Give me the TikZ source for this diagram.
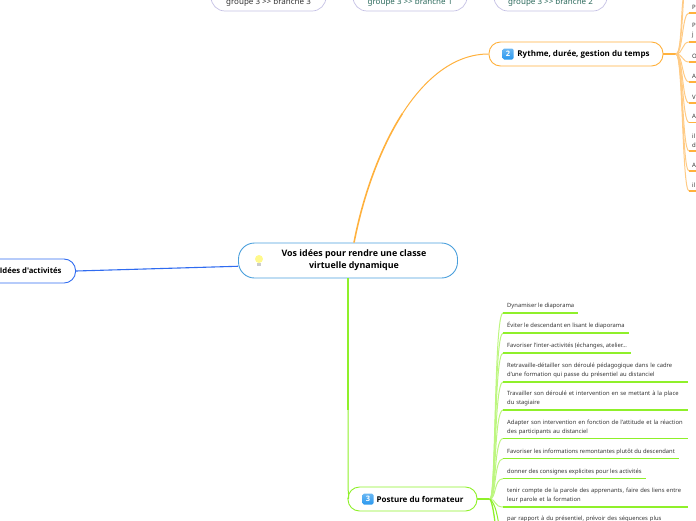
\documentclass[tikz,border=0pt]{standalone}
\usepackage{fontspec}
\setmainfont{Noto Sans}
\newfontfamily\titlefont{Open Sans}
\definecolor{orangeline}{HTML}{FFB13D}
\definecolor{orangefan}{HTML}{FFCB85}
\definecolor{greenline}{HTML}{8FF02A}
\definecolor{greenfan}{HTML}{BDF680}
\definecolor{blueline}{HTML}{2F6BF0}
\definecolor{mainline}{HTML}{4A9FDC}
\definecolor{lilacline}{HTML}{C4C0E4}
\definecolor{tealtext}{HTML}{2C6A5C}
\definecolor{inktext}{HTML}{333333}
\definecolor{iconblue}{HTML}{2A98EE}
\tikzset{
    mainbox/.style={draw=mainline, line width=0.9pt, rounded corners=16pt, minimum width=219pt, minimum height=35pt, inner sep=0pt, font=\fontsize{8.9}{12}\selectfont\titlefont\bfseries},
    topicbox/.style={rounded corners=11.5pt, line width=0.9pt, minimum height=24pt, inner sep=0pt, font=\fontsize{8}{9}\selectfont\titlefont\bfseries},
    groupbox/.style={draw=lilacline, rounded corners=14pt, line width=0.7pt, minimum height=28pt, inner sep=0pt, text height=14pt, text depth=0pt, font=\fontsize{8}{9}\selectfont},
    numicon/.style={top color=iconblue!70!white, bottom color=iconblue, rounded corners=1.5pt, minimum size=11pt, inner sep=0pt, text=white, font=\fontsize{7.5}{8}\selectfont\titlefont\bfseries},
    leaf/.style={anchor=south west, inner xsep=4pt, inner ysep=3.6pt, text=inktext, font=\fontsize{5.82}{9}\selectfont},
    leafwide/.style={leaf, text width=177pt, align=left},
    oleaf/.style={anchor=south west, inner xsep=3pt, inner ysep=3.6pt, text width=24pt, align=left, text=inktext, font=\fontsize{6}{9}\selectfont}
}
\begin{document}
\begin{tikzpicture}[x=1pt, y=-1pt]
    \useasboundingbox (0,0) rectangle (696,520);
    \clip (0,0) rectangle (696,520);

    % Main boxes
    \node[mainbox] (main) at (348,260.5) {\hspace*{12pt}\begin{tabular}{@{}c@{}}Vos idées pour rendre une classe\\virtuelle dynamique\end{tabular}};
    \node[topicbox, draw=orangeline, minimum width=174pt] (rythme) at (576,54) {\hspace*{15pt}Rythme, durée, gestion du temps};
    \node[topicbox, draw=greenline, minimum width=129pt] (posture) at (412.5,499) {\hspace*{15pt}Posture du formateur};
    \node[topicbox, draw=blueline, anchor=east, inner xsep=14pt, font=\fontsize{7.7}{9}\selectfont\titlefont\bfseries] (idees) at (76,271) {Idées d'activités};

    % Group boxes at the top
    \node[groupbox, minimum width=115pt, text=inktext] (groupc) at (268.5,-3) {groupe 3 >{}> branche 3};
    \node[groupbox, minimum width=114pt, text=tealtext] (groupa) at (410,-3) {groupe 3 >{}> branche 1};
    \node[groupbox, minimum width=113pt, text=tealtext] (groupb) at (550.5,-3) {groupe 3 >{}> branche 2};

    % Icons
    \node[numicon] (icontwo) at (508,54) {2};
    \node[numicon] (iconthree) at (368,499) {3};
    \fill[yellow!45!white] (259,259) circle (4pt);
    \fill[black!20] (257.2,263) rectangle (260.8,266);

    % Branches from the main box
    \coordinate (orangemid) at (402.4,113.6);
    \coordinate (greenmida) at (348,330);
    \coordinate (greenmidb) at (348,410);
    \draw[orangeline, line width=1.6pt] (main.north) ++(6,0) .. controls (363,196.5) and (379.5,149.25) .. (orangemid);
    \draw[orangeline, line width=1pt] (orangemid) .. controls (425.25,78) and (454.5,54) .. (rythme.west);
    \draw[greenline, line width=1.7pt] (main.south) -- (greenmida);
    \draw[greenline, line width=1.3pt] (greenmida) -- (greenmidb);
    \draw[greenline, line width=1pt] (greenmidb) -- (348,485) .. controls (348,495) and (350,499) .. (posture.west);
    \draw[blueline, line width=1.1pt] (idees.east) -- (main.183.5);

    % Orange leaves
    \coordinate (orangehub) at (676,54);
    \coordinate (orangetopa) at (686,-10);
    \coordinate (orangetopb) at (688,-30);
    \draw[orangeline, line width=2pt] (rythme.east) -- (orangehub);
    \node[oleaf] (oa) at (689,13) {P};
    \node[oleaf] (ob) at (689,42) {P\\j};
    \node[oleaf] (oc) at (689,62) {O};
    \node[oleaf] (od) at (689,82) {A};
    \node[oleaf] (oe) at (689,103) {V};
    \node[oleaf] (of) at (689,122.5) {A};
    \node[oleaf] (og) at (689,151) {il\\d};
    \node[oleaf] (oh) at (689,171) {A};
    \node[oleaf] (oi) at (689,191) {il};
    \draw[orangefan, line width=1pt] (orangehub) .. controls (683,54) and (680,-10) .. (orangetopa);
    \draw[orangefan, line width=1pt] (orangehub) .. controls (684,54) and (682,-30) .. (orangetopb);
    \draw[orangefan, line width=1pt] (orangehub) .. controls (683,54) and (682,13) .. (oa.south west);
    \draw[orangefan, line width=1pt] (orangehub) .. controls (683,54) and (682,42) .. (ob.south west);
    \draw[orangefan, line width=1pt] (orangehub) .. controls (683,54) and (682,62) .. (oc.south west);
    \draw[orangefan, line width=1pt] (orangehub) .. controls (683,54) and (682,82) .. (od.south west);
    \draw[orangefan, line width=1pt] (orangehub) .. controls (683,54) and (682,103) .. (oe.south west);
    \draw[orangefan, line width=1pt] (orangehub) .. controls (683,54) and (682,122) .. (of.south west);
    \draw[orangefan, line width=1pt] (orangehub) .. controls (683,54) and (682,151) .. (og.south west);
    \draw[orangefan, line width=1pt] (orangehub) .. controls (683,54) and (682,171) .. (oh.south west);
    \draw[orangefan, line width=1pt] (orangehub) .. controls (683,54) and (682,191) .. (oi.south west);
    \draw[orangeline, line width=1.2pt] (oa.south west) -- (oa.south east);
    \draw[orangeline, line width=1.2pt] (ob.south west) -- (ob.south east);
    \draw[orangeline, line width=1.2pt] (oc.south west) -- (oc.south east);
    \draw[orangeline, line width=1.2pt] (od.south west) -- (od.south east);
    \draw[orangeline, line width=1.2pt] (oe.south west) -- (oe.south east);
    \draw[orangeline, line width=1.2pt] (of.south west) -- (of.south east);
    \draw[orangeline, line width=1.2pt] (og.south west) -- (og.south east);
    \draw[orangeline, line width=1.2pt] (oh.south west) -- (oh.south east);
    \draw[orangeline, line width=1.2pt] (oi.south west) -- (oi.south east);

    % Green leaves
    \coordinate (greenhub) at (490,499);
    \coordinate (greenbota) at (496,530);
    \coordinate (greenbotb) at (500,530);
    \draw[greenline, line width=2pt] (posture.east) -- (greenhub);
    \node[leaf] (ga) at (503,313) {Dynamiser le diaporama};
    \node[leaf] (gb) at (503,333) {Éviter le descendant en lisant le diaporama};
    \node[leaf] (gc) at (503,353) {Favoriser l'inter-activités (échanges, atelier...};
    \node[leafwide] (gd) at (503,382) {Retravaille-détailler son déroulé pédagogique dans le cadre\\d'une formation qui passe du présentiel au distanciel};
    \node[leafwide] (ge) at (503,410) {Travailler son déroulé et intervention en se mettant à la place\\du stagiaire};
    \node[leafwide] (gf) at (503,438.5) {Adapter son intervention en fonction de l'attitude et la réaction\\des participants au distanciel};
    \node[leaf] (gg) at (503,458.7) {Favoriser les informations remontantes plutôt du descendant};
    \node[leaf] (gh) at (503,478.7) {donner des consignes explicites pour les activités};
    \node[leafwide] (gi) at (503,507) {tenir compte de la parole des apprenants, faire des liens entre\\leur parole et la formation};
    \node[leafwide, anchor=north west] (gj) at (503,512.5) {par rapport à du présentiel, prévoir des séquences plus};
    \draw[greenfan, line width=1pt] (greenhub) .. controls (496,499) and (494,313) .. (ga.south west);
    \draw[greenfan, line width=1pt] (greenhub) .. controls (496,499) and (494,333) .. (gb.south west);
    \draw[greenfan, line width=1pt] (greenhub) .. controls (496,499) and (494,353) .. (gc.south west);
    \draw[greenfan, line width=1pt] (greenhub) .. controls (496,499) and (494,382) .. (gd.south west);
    \draw[greenfan, line width=1pt] (greenhub) .. controls (496,499) and (494,410) .. (ge.south west);
    \draw[greenfan, line width=1pt] (greenhub) .. controls (496,499) and (494,438.5) .. (gf.south west);
    \draw[greenfan, line width=1pt] (greenhub) .. controls (496,499) and (494,458.7) .. (gg.south west);
    \draw[greenfan, line width=1pt] (greenhub) .. controls (496,499) and (494,478.7) .. (gh.south west);
    \draw[greenfan, line width=1pt] (greenhub) .. controls (496,499) and (494,507) .. (gi.south west);
    \draw[greenline, line width=1.3pt] (greenhub) .. controls (493,505) and (494,515) .. (greenbota);
    \draw[greenline, line width=1pt] (greenhub) .. controls (496,505) and (497,515) .. (greenbotb);
    \draw[greenline, line width=1.2pt] (ga.south west) -- (ga.south east);
    \draw[greenline, line width=1.2pt] (gb.south west) -- (gb.south east);
    \draw[greenline, line width=1.2pt] (gc.south west) -- (gc.south east);
    \draw[greenline, line width=1.2pt] (gd.south west) -- (gd.south east);
    \draw[greenline, line width=1.2pt] (ge.south west) -- (ge.south east);
    \draw[greenline, line width=1.2pt] (gf.south west) -- (gf.south east);
    \draw[greenline, line width=1.2pt] (gg.south west) -- (gg.south east);
    \draw[greenline, line width=1.2pt] (gh.south west) -- (gh.south east);
    \draw[greenline, line width=1.2pt] (gi.south west) -- (gi.south east);
\end{tikzpicture}
\end{document}
